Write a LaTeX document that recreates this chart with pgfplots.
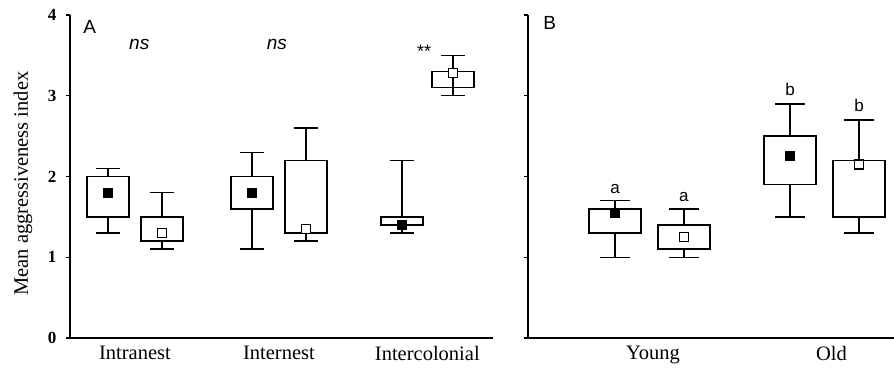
\documentclass[border=0pt]{standalone}
\usepackage{fontspec}
\setmainfont{Liberation Serif}
\setsansfont{Liberation Sans}
\usepackage{pgfplots}
\pgfplotsset{compat=1.18}
\usepgfplotslibrary{statistics}
\begin{document}
\begin{tikzpicture}
\useasboundingbox (0,0) rectangle (894pt,368pt);
\pgfplotsset{
  common/.style={
    scale only axis,
    height=323pt,
    ymin=0, ymax=4,
    axis x line=bottom, axis y line=left,
    axis line style={-, line width=1.3pt, black},
    tick align=outside,
    major tick length=4pt,
    tick style={line width=1.3pt, black},
    x tick style={draw=none},
    xticklabel style={font=\fontsize{20.5}{24}\selectfont, yshift=-1pt},
    clip=false,
    boxplot/draw direction=y,
    boxplot/draw/median/.code={},
    boxplot/every box/.style={line width=1.4pt},
    boxplot/every whisker/.style={line width=1.4pt},
  },
  bx/.style={black, line width=1.4pt, solid, mark=none},
  fm/.style={only marks, mark=square*, mark size=4.5pt, mark options={fill=black, draw=black, line width=0.8pt}},
  om/.style={only marks, mark=square*, mark size=4.5pt, mark options={fill=white, draw=black, line width=1.3pt}},
}
% ---------------- Panel A ----------------
\begin{axis}[common,
  at={(70pt,30pt)}, anchor=south west,
  width=423pt,
  xmin=0.549, xmax=3.486,
  xtick={1,2,3.03}, xticklabels={Intranest,Internest,Intercolonial},
  ytick={0,1,2,3,4},
  yticklabels={0,1,2,3,4},
  y tick label style={font=\bfseries\fontsize{17}{19}\selectfont, anchor=east, xshift=-6pt},
  ylabel={Mean aggressiveness index},
  ylabel style={at={(axis description cs:-0.111,0.478)}, anchor=center, font=\fontsize{20.5}{24}\selectfont},
]
\addplot[bx, boxplot prepared={draw position=0.8125, lower whisker=1.3, lower quartile=1.5, median=1.5, upper quartile=2.0, upper whisker=2.1, box extend=0.29, whisker extend=0.167}] coordinates {};
\addplot[bx, boxplot prepared={draw position=1.1875, lower whisker=1.1, lower quartile=1.2, median=1.2, upper quartile=1.5, upper whisker=1.8, box extend=0.29, whisker extend=0.167}] coordinates {};
\addplot[bx, boxplot prepared={draw position=1.8125, lower whisker=1.1, lower quartile=1.6, median=1.6, upper quartile=2.0, upper whisker=2.3, box extend=0.29, whisker extend=0.167}] coordinates {};
\addplot[bx, boxplot prepared={draw position=2.1875, lower whisker=1.2, lower quartile=1.3, median=1.3, upper quartile=2.2, upper whisker=2.6, box extend=0.29, whisker extend=0.167}] coordinates {};
\addplot[bx, boxplot prepared={draw position=2.854, lower whisker=1.3, lower quartile=1.4, median=1.4, upper quartile=1.5, upper whisker=2.2, box extend=0.29, whisker extend=0.167}] coordinates {};
\addplot[bx, boxplot prepared={draw position=3.208, lower whisker=3.0, lower quartile=3.1, median=3.1, upper quartile=3.3, upper whisker=3.5, box extend=0.29, whisker extend=0.167}] coordinates {};
\addplot[bx] coordinates {(3.208,3.1) (3.208,3.3)};
\addplot[fm] coordinates {(0.8125,1.8) (1.8125,1.8) (2.854,1.4)};
\addplot[om] coordinates {(1.1875,1.3) (2.1875,1.35) (3.208,3.28)};
\node[anchor=base west, font=\sffamily\fontsize{19}{22}\selectfont] at (axis cs:0.618,3.775) {A};
\node[anchor=base, font=\sffamily\itshape\fontsize{19}{22}\selectfont] at (axis cs:1.03,3.57) {ns};
\node[anchor=base, font=\sffamily\itshape\fontsize{19}{22}\selectfont] at (axis cs:1.986,3.57) {ns};
\node[anchor=base, font=\sffamily\fontsize{18}{22}\selectfont] at (axis cs:3.007,3.47) {**};
\end{axis}
% ---------------- Panel B ----------------
\begin{axis}[common,
  at={(528pt,30pt)}, anchor=south west,
  width=366pt,
  xmin=0.306, xmax=2.397,
  xtick={1.02,2.04}, xticklabels={Young,Old},
  ytick={0,1,2,3,4}, yticklabels={},
]
\addplot[bx, boxplot prepared={draw position=0.803, lower whisker=1.0, lower quartile=1.3, median=1.3, upper quartile=1.6, upper whisker=1.7, box extend=0.297, whisker extend=0.171}] coordinates {};
\addplot[bx, boxplot prepared={draw position=1.197, lower whisker=1.0, lower quartile=1.1, median=1.1, upper quartile=1.4, upper whisker=1.6, box extend=0.297, whisker extend=0.171}] coordinates {};
\addplot[bx, boxplot prepared={draw position=1.803, lower whisker=1.5, lower quartile=1.9, median=1.9, upper quartile=2.5, upper whisker=2.9, box extend=0.297, whisker extend=0.171}] coordinates {};
\addplot[bx, boxplot prepared={draw position=2.197, lower whisker=1.3, lower quartile=1.5, median=1.5, upper quartile=2.2, upper whisker=2.7, box extend=0.297, whisker extend=0.171}] coordinates {};
\addplot[fm] coordinates {(0.803,1.55) (1.803,2.25)};
\addplot[om] coordinates {(1.197,1.25) (2.197,2.15)};
\node[anchor=base west, font=\sffamily\fontsize{19}{22}\selectfont] at (axis cs:0.374,3.82) {B};
\node[anchor=base, font=\sffamily\fontsize{17}{20}\selectfont] at (axis cs:0.803,1.79) {a};
\node[anchor=base, font=\sffamily\fontsize{17}{20}\selectfont] at (axis cs:1.197,1.69) {a};
\node[anchor=base, font=\sffamily\fontsize{17}{20}\selectfont] at (axis cs:1.803,3.0) {b};
\node[anchor=base, font=\sffamily\fontsize{17}{20}\selectfont] at (axis cs:2.197,2.80) {b};
\end{axis}
\end{tikzpicture}
\end{document}
